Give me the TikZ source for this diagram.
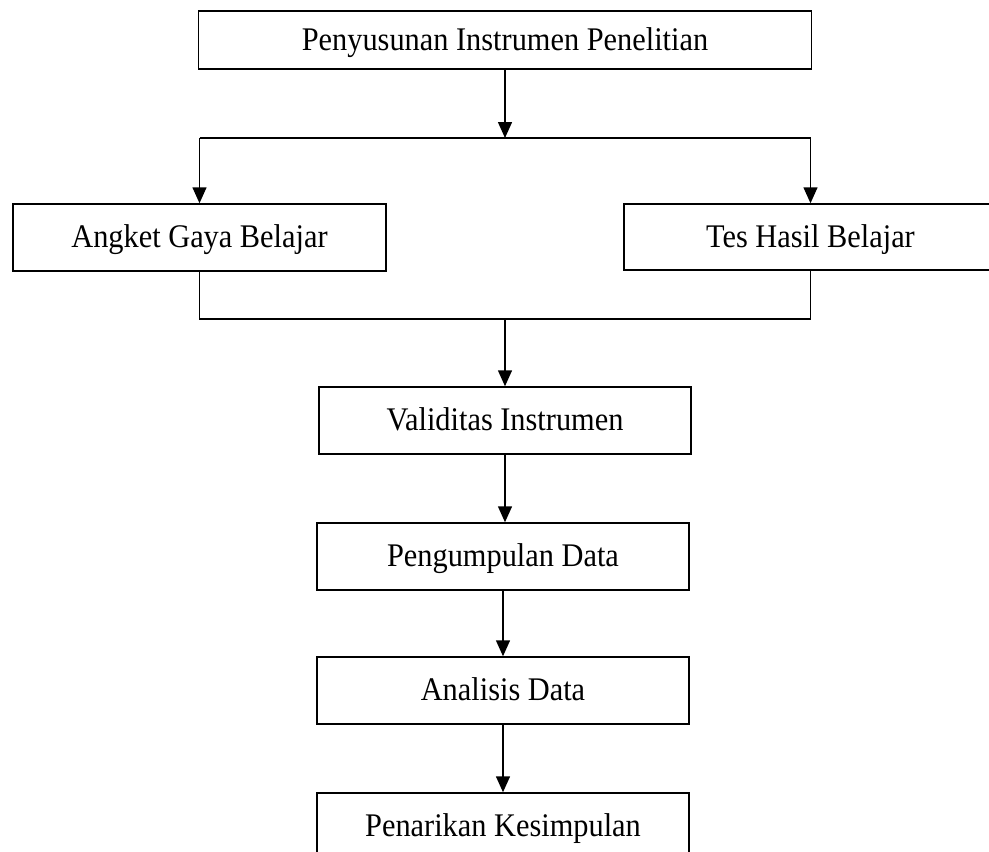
\documentclass[tikz,border=0pt]{standalone}
\usepackage{fontspec}
\setmainfont{Liberation Serif}
\usetikzlibrary{arrows.meta}
\newcommand{\narrowtxt}[1]{\scalebox{0.92}[1]{#1}}
\begin{document}
\begin{tikzpicture}[x=1pt,y=-1pt,
  box/.style={draw,line width=1.5pt,minimum height=66pt,inner sep=0pt,
    text height=27pt,text depth=7pt,
    font=\fontsize{33}{40}\selectfont},
  wide/.style={minimum width=613pt,minimum height=58pt},
  side/.style={minimum width=373pt},
  mid/.style={minimum width=372pt},
  link/.style={line width=1.5pt},
  arr/.style={link,-{Triangle[length=16pt,width=14pt]}}]
\useasboundingbox (0,0) rectangle (989,852);
\clip (0,0) rectangle (989,852);
\node[box,wide] (top) at (505,40) {\narrowtxt{Penyusunan Instrumen Penelitian}};
\node[box,side,minimum height=67pt] (angket) at (199.5,237.5) {\narrowtxt{Angket Gaya Belajar}};
\node[box,side] (tes) at (810.5,237) {\narrowtxt{Tes Hasil Belajar}};
\node[box,mid,minimum height=67pt] (valid) at (505,420.5) {\narrowtxt{Validitas Instrumen}};
\node[box,mid,minimum height=67pt] (kumpul) at (503,556.5) {\narrowtxt{Pengumpulan Data}};
\node[box,mid,minimum height=67pt] (analisis) at (503,690.5) {\narrowtxt{Analisis Data}};
\node[box,mid,minimum height=67pt] (tarik) at (503,826.5) {\narrowtxt{Penarikan Kesimpulan}};
\coordinate (bL) at (199.5,138);
\coordinate (bR) at (810.5,138);
\coordinate (bM) at (505,138);
\coordinate (jL) at (199.5,319);
\coordinate (jR) at (810.5,319);
\coordinate (jM) at (505,319);
\draw[arr] (top.south) -- (bM);
\draw[link] (bL) -- (bR);
\draw[arr] (bL) -- (angket.north);
\draw[arr] (bR) -- (tes.north);
\draw[link] (angket.south) -- (jL) -- (jR) -- (tes.south);
\draw[arr] (jM) -- (valid.north);
\draw[arr] (valid.south) -- (valid.south |- kumpul.north);
\draw[arr] (kumpul.south) -- (analisis.north);
\draw[arr] (analisis.south) -- (tarik.north);
\end{tikzpicture}
\end{document}
